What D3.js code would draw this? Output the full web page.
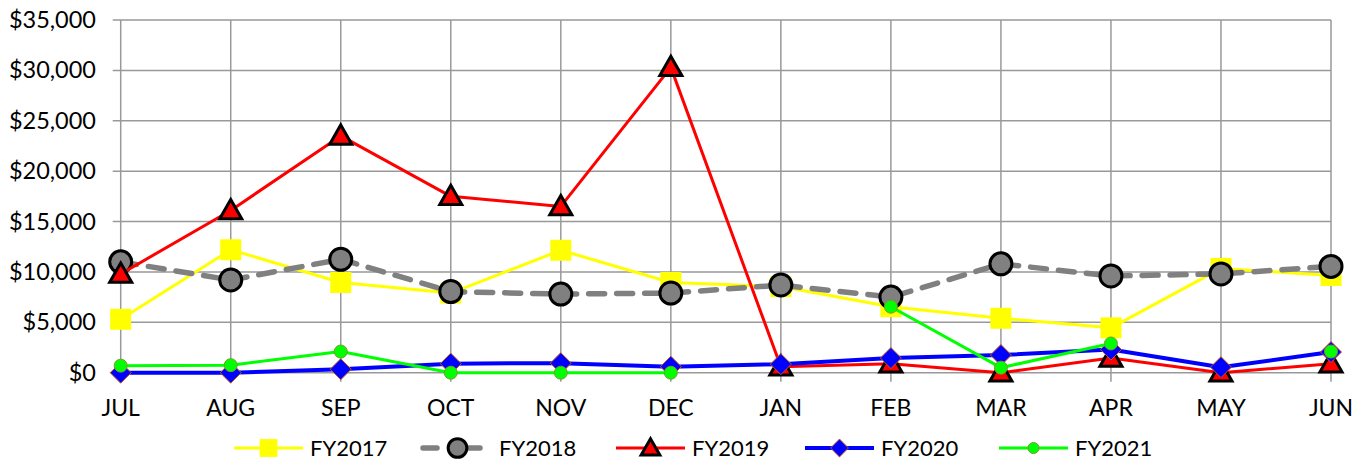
<!DOCTYPE html>
<html>
<head>
<meta charset="utf-8">
<script src="https://cdn.jsdelivr.net/npm/d3@7"></script>
<style>
  body { margin: 0; background: #fff; }
  svg text { font-family: Lato, "Open Sans", sans-serif; fill: #000; }
</style>
</head>
<body>
<svg id="chart" width="1366" height="464"></svg>
<script>
// ----------------------
// data
// ----------------------
const months = ["JUL", "AUG", "SEP", "OCT", "NOV", "DEC", "JAN", "FEB", "MAR", "APR", "MAY", "JUN"];
const yTicks = [0, 5000, 10000, 15000, 20000, 25000, 30000, 35000];

const fy2017 = [5300, 12200, 8950, 7900, 12150, 8950, 8550, 6550, 5400, 4450, 10350, 9650];
const fy2018 = [11000, 9200, 11250, 8050, 7800, 7900, 8700, 7500, 10800, 9600, 9800, 10550];
const fy2019 = [9800, 16100, 23500, 17500, 16500, 30300, 600, 900, 0, 1450, 0, 900];
const fy2020 = [0, 0, 350, 900, 950, 600, 850, 1450, 1750, 2300, 550, 2050];
const fy2021 = [700, 750, 2100, 0, 0, 0, null, 6550, 500, 2900, null, 2100];

const seriesNames = ["FY2017", "FY2018", "FY2019", "FY2020", "FY2021"];

// ----------------------
// layout
// ----------------------
const svg = d3.select("#chart");
const plot = { left: 120.7, right: 1331, top: 20, bottom: 372.7 };

const x = d3.scalePoint().domain(months).range([plot.left, plot.right]);
const y = d3.scaleLinear().domain([0, 35000]).range([plot.bottom, plot.top]);

const gridColor = "#999";

// horizontal grid + left ticks
svg.append("g").selectAll("line")
    .data(yTicks)
    .join("line")
    .attr("x1", plot.left - 8)
    .attr("x2", plot.right)
    .attr("y1", d => y(d))
    .attr("y2", d => y(d))
    .attr("stroke", gridColor)
    .attr("stroke-width", 1.5);

// vertical grid + bottom ticks
svg.append("g").selectAll("line")
    .data(months)
    .join("line")
    .attr("x1", d => x(d))
    .attr("x2", d => x(d))
    .attr("y1", plot.top)
    .attr("y2", plot.bottom + 9)
    .attr("stroke", gridColor)
    .attr("stroke-width", 1.5);

// y labels
const fmt = d3.format("$,");
svg.append("g").selectAll("text")
    .data(yTicks)
    .join("text")
    .attr("x", 96)
    .attr("y", d => y(d) + 8)
    .attr("text-anchor", "end")
    .attr("font-size", 23.5)
    .text(d => fmt(d));

// x labels
svg.append("g").selectAll("text")
    .data(months)
    .join("text")
    .attr("x", d => x(d))
    .attr("y", 416)
    .attr("text-anchor", "middle")
    .attr("font-size", 23)
    .text(d => d);

// ----------------------
// series
// ----------------------
const styles = {
    FY2017: { values: fy2017, color: "#FFFF00", width: 3, dash: null, marker: "square", size: 21, fill: "#FFFF00", stroke: "none", sw: 0 },
    FY2018: { values: fy2018, color: "#808080", width: 5.5, dash: "16,12", marker: "circle", size: 22, fill: "#808080", stroke: "#000", sw: 3 },
    FY2019: { values: fy2019, color: "#FF0000", width: 3, dash: null, marker: "triangle", size: 22, fill: "#FF0000", stroke: "#000", sw: 3 },
    FY2020: { values: fy2020, color: "#0000FF", width: 4, dash: null, marker: "diamond", size: 21, fill: "#0000FF", stroke: "#C55A11", sw: 1 },
    FY2021: { values: fy2021, color: "#00FF00", width: 3, dash: null, marker: "circle", size: 13, fill: "#00FF00", stroke: "#7a9a30", sw: 1 }
};

function markerPath(type, s) {
    const h = s / 2;
    if (type === "square") return `M${-h},${-h}H${h}V${h}H${-h}Z`;
    if (type === "diamond") return `M0,${-h}L${h},0L0,${h}L${-h},0Z`;
    if (type === "triangle") return `M0,${-h}L${h},${h * 0.75}L${-h},${h * 0.75}Z`;
    return d3.arc()({ innerRadius: 0, outerRadius: h, startAngle: 0, endAngle: 2 * Math.PI });
}

const line = d3.line()
    .defined(d => d.v !== null)
    .x(d => x(d.m))
    .y(d => y(d.v));

seriesNames.forEach(name => {
    const st = styles[name];
    const pts = months.map((m, i) => ({ m, v: st.values[i] }));
    const g = svg.append("g");

    g.append("path")
        .datum(pts)
        .attr("d", line)
        .attr("fill", "none")
        .attr("stroke", st.color)
        .attr("stroke-width", st.width)
        .attr("stroke-dasharray", st.dash)
        .attr("stroke-linecap", st.dash ? "round" : "butt")
        .attr("stroke-linejoin", "round");

    g.selectAll("path.mk")
        .data(pts.filter(d => d.v !== null))
        .join("path")
        .attr("class", "mk")
        .attr("transform", d => `translate(${x(d.m)},${y(d.v)})`)
        .attr("d", markerPath(st.marker, st.size))
        .attr("fill", st.fill)
        .attr("stroke", st.stroke)
        .attr("stroke-width", st.sw);
});

// ----------------------
// legend
// ----------------------
const legendX = [234, 423, 616, 805, 999];
const legendY = 448;
const legendScale = 0.85;

seriesNames.forEach((name, i) => {
    const st = styles[name];
    const x0 = legendX[i];
    const g = svg.append("g");
    g.append("line")
        .attr("x1", x0).attr("x2", x0 + 69)
        .attr("y1", legendY).attr("y2", legendY)
        .attr("stroke", st.color)
        .attr("stroke-width", st.width)
        .attr("stroke-dasharray", st.dash ? "14,29" : null)
        .attr("stroke-linecap", st.dash ? "round" : "butt");
    g.append("path")
        .attr("transform", `translate(${x0 + 34.5},${legendY})`)
        .attr("d", markerPath(st.marker, st.size * legendScale))
        .attr("fill", st.fill)
        .attr("stroke", st.stroke)
        .attr("stroke-width", st.sw);
    g.append("text")
        .attr("x", x0 + 76)
        .attr("y", legendY + 8)
        .attr("font-size", 22)
        .text(name);
});
</script>
</body>
</html>
